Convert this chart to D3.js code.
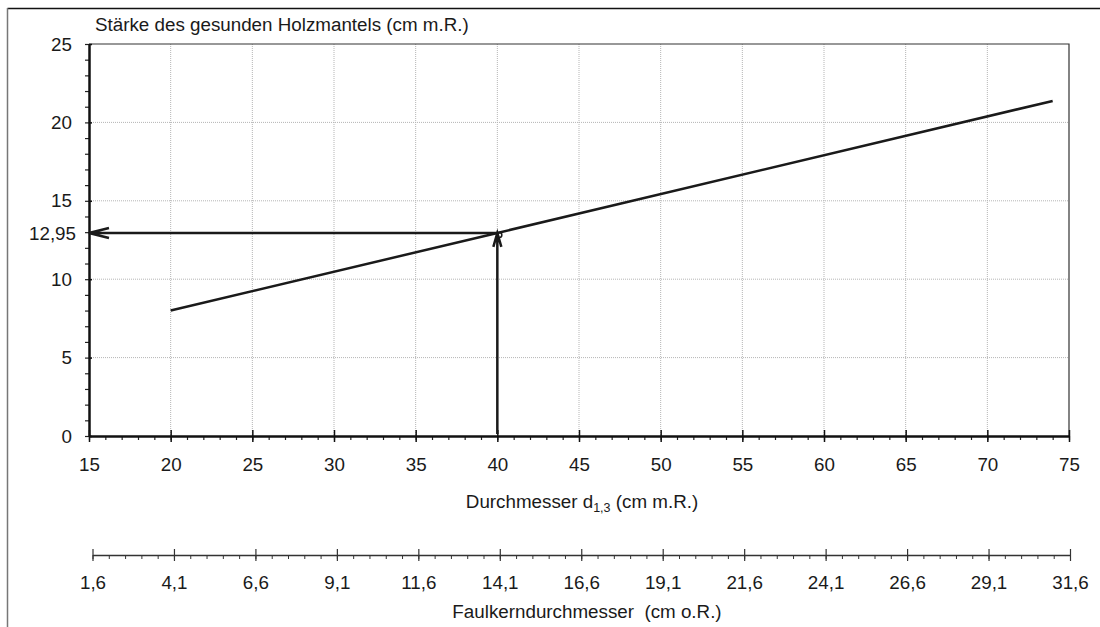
<!DOCTYPE html>
<html>
<head>
<meta charset="utf-8">
<script src="https://cdn.jsdelivr.net/npm/d3@7"></script>
<style>
  body { margin: 0; background: #fff; }
  text, tspan { font-family: "Liberation Sans", Arial, sans-serif; fill: #1a1a1a; }
</style>
</head>
<body>
<div id="chart"></div>
<script>
// line: healthy wood mantle thickness over diameter d1,3
const diameter = [20, 40, 74];
const mantle = [8.0, 12.95, 21.37];

// reading example: d1,3 = 40 -> 12,95
const readX = 40;
const readY = 12.95;

const xTicks = [15, 20, 25, 30, 35, 40, 45, 50, 55, 60, 65, 70, 75];
const yTicks = [0, 5, 10, 15, 20, 25];
const coreTicks = [1.6, 4.1, 6.6, 9.1, 11.6, 14.1, 16.6, 19.1, 21.6, 24.1, 26.6, 29.1, 31.6];

const width = 1100, height = 627;
const fs = 18.8;

const de = d3.formatLocale({decimal: ",", thousands: ".", grouping: [3], currency: ["", " €"]});
const fmt1 = de.format(".1f");
const fmt2 = de.format(".2f");

const svg = d3.select("#chart")
  .append("svg")
    .attr("width", width)
    .attr("height", height);

// outer frame (top + left)
svg.append("line")
  .attr("x1", 7.5).attr("x2", width).attr("y1", 8.5).attr("y2", 8.5)
  .attr("stroke", "#111").attr("stroke-width", 1.5);
svg.append("line")
  .attr("x1", 7.5).attr("x2", 7.5).attr("y1", 8).attr("y2", height)
  .attr("stroke", "#777").attr("stroke-width", 1.5);

const x = d3.scaleLinear().domain([15, 75]).range([89, 1069]);
const y = d3.scaleLinear().domain([0, 25]).range([436, 44]);
const x2 = d3.scaleLinear().domain([1.6, 31.6]).range([92.5, 1070]);

// dotted grid
svg.append("g")
  .selectAll("line")
  .data(xTicks.filter(d => d > 15 && d < 75))
  .join("line")
    .attr("x1", d => x(d)).attr("x2", d => x(d))
    .attr("y1", y(25)).attr("y2", y(0))
    .attr("stroke", "#b5b5b5").attr("stroke-width", 1)
    .attr("stroke-dasharray", "1,1");
svg.append("g")
  .selectAll("line")
  .data(yTicks.filter(d => d > 0 && d < 25))
  .join("line")
    .attr("x1", x(15)).attr("x2", x(75))
    .attr("y1", d => y(d)).attr("y2", d => y(d))
    .attr("stroke", "#b5b5b5").attr("stroke-width", 1)
    .attr("stroke-dasharray", "1,1");

// plot box top + right
svg.append("path")
  .attr("d", `M${x(15)},${y(25)}H${x(75)}V${y(0)}`)
  .attr("fill", "none").attr("stroke", "#333").attr("stroke-width", 1.2);

const styleText = g => g.selectAll("text")
  .attr("font-size", fs).attr("fill", "#1a1a1a")
  .style("font-family", "'Liberation Sans', Arial, sans-serif");

// y axis: minor ticks every 1, major every 5
svg.append("g")
  .attr("transform", `translate(${x(15)},0)`)
  .call(d3.axisLeft(y).tickValues(d3.range(0, 26, 1)).tickSize(4).tickFormat(""))
  .call(g => g.select(".domain").remove())
  .call(g => g.selectAll("line").attr("stroke", "#222").attr("stroke-width", 1.2));
svg.append("g")
  .attr("transform", `translate(${x(15)},0)`)
  .call(d3.axisLeft(y).tickValues(yTicks).tickSizeInner(7).tickSizeOuter(0).tickPadding(10))
  .call(g => g.select(".domain").attr("stroke", "#111").attr("stroke-width", 2.5))
  .call(g => g.selectAll(".tick line").attr("stroke", "#111").attr("stroke-width", 1.5).attr("x2", 3))
  .call(styleText);

// 12,95 label
svg.append("text")
  .attr("x", x(15) - 13).attr("y", y(readY))
  .attr("dy", "0.35em")
  .attr("text-anchor", "end")
  .attr("font-size", fs)
  .text(fmt2(readY));

// x axis: minor ticks every 1, major every 5 crossing the line
svg.append("g")
  .attr("transform", `translate(0,${y(0)})`)
  .call(d3.axisBottom(x).tickValues(d3.range(15, 76, 1)).tickSize(4).tickFormat(""))
  .call(g => g.select(".domain").remove())
  .call(g => g.selectAll("line").attr("stroke", "#222").attr("stroke-width", 1.2));
svg.append("g")
  .attr("transform", `translate(0,${y(0)})`)
  .call(d3.axisBottom(x).tickValues(xTicks).tickSizeInner(6).tickSizeOuter(0).tickPadding(16))
  .call(g => g.select(".domain").attr("stroke", "#111").attr("stroke-width", 2.5))
  .call(g => g.selectAll(".tick line").attr("stroke", "#111").attr("stroke-width", 1.5).attr("y1", -6))
  .call(styleText);

// second scale: rot core diameter
svg.append("g")
  .attr("transform", "translate(0,555)")
  .call(d3.axisBottom(x2).tickValues(d3.range(1.6, 31.61, 0.5)).tickSize(4).tickFormat(""))
  .call(g => g.select(".domain").remove())
  .call(g => g.selectAll("line").attr("stroke", "#333").attr("stroke-width", 1));
svg.append("g")
  .attr("transform", "translate(0,555)")
  .call(d3.axisBottom(x2).tickValues(coreTicks).tickSizeInner(6).tickSizeOuter(0).tickPadding(15).tickFormat(fmt1))
  .call(g => g.select(".domain").attr("stroke", "#333").attr("stroke-width", 1.5))
  .call(g => g.selectAll(".tick line").attr("stroke", "#333").attr("stroke-width", 1.2).attr("y1", -6))
  .call(styleText);

// axis titles
svg.append("text")
  .attr("x", 95).attr("y", 31)
  .attr("font-size", fs)
  .text("Stärke des gesunden Holzmantels (cm m.R.)");

const xTitle = svg.append("text")
  .attr("x", 582).attr("y", 508)
  .attr("text-anchor", "middle")
  .attr("font-size", fs);
xTitle.append("tspan").attr("fill", "#1a1a1a").text("Durchmesser d");
xTitle.append("tspan").attr("fill", "#1a1a1a").attr("font-size", 12.5).attr("dy", 4).text("1,3");
xTitle.append("tspan").attr("fill", "#1a1a1a").attr("dy", -4).text(" (cm m.R.)");

svg.append("text")
  .attr("x", 587).attr("y", 618)
  .attr("text-anchor", "middle")
  .attr("font-size", fs)
  .attr("xml:space", "preserve")
  .style("white-space", "pre")
  .text("Faulkerndurchmesser  (cm o.R.)");

// the line
const pts = diameter.map((d, i) => [d, mantle[i]]);
svg.append("path")
  .datum(pts)
  .attr("fill", "none")
  .attr("stroke", "#1a1a1a")
  .attr("stroke-width", 2.5)
  .attr("d", d3.line().x(d => x(d[0])).y(d => y(d[1])));

// reading arrows
const ax = x(readX), ay = y(readY);
svg.append("path")
  .attr("d", `M${ax},${y(0) - 2}V${ay}M${ax - 4},${ay + 14}L${ax},${ay}L${ax + 4},${ay + 14}`)
  .attr("fill", "none").attr("stroke", "#1a1a1a").attr("stroke-width", 2.5);
svg.append("path")
  .attr("d", `M${ax},${ay}H${x(15)}M${x(15) + 20},${ay - 5}L${x(15)},${ay}L${x(15) + 20},${ay + 5}`)
  .attr("fill", "none").attr("stroke", "#1a1a1a").attr("stroke-width", 2.5);
svg.append("circle")
  .attr("cx", ax + 2).attr("cy", ay + 2).attr("r", 2.5)
  .attr("fill", "none").attr("stroke", "#1a1a1a").attr("stroke-width", 1.5);
</script>
</body>
</html>
